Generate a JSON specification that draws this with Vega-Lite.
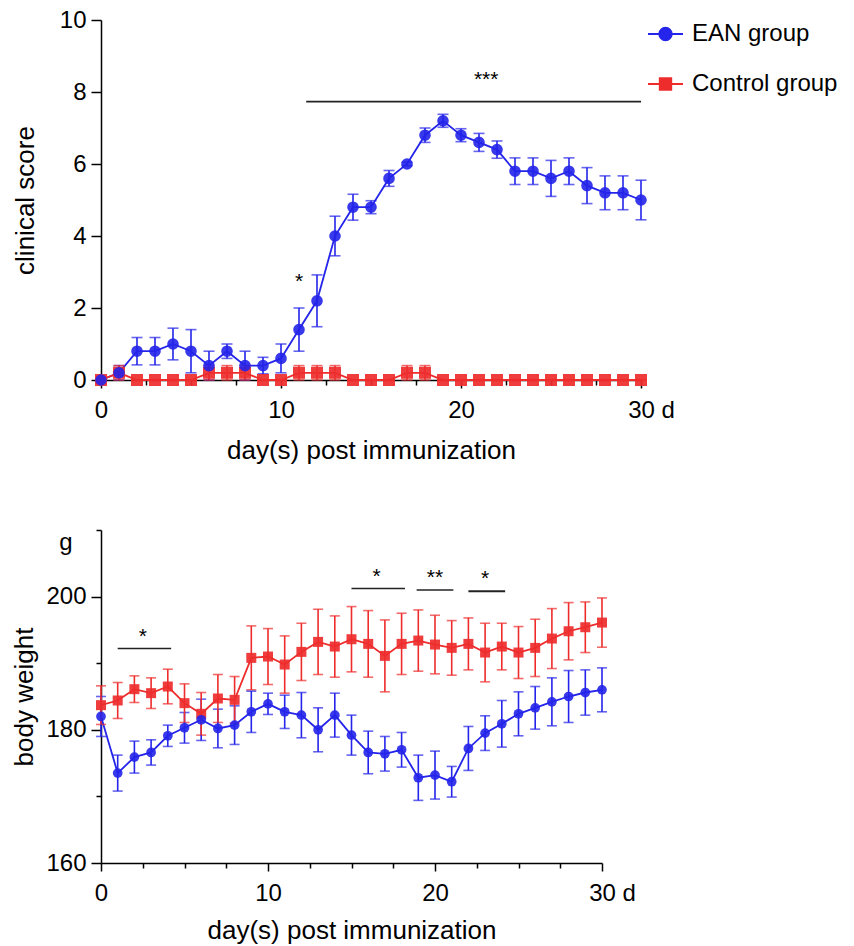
{
  "$schema": "https://vega.github.io/schema/vega-lite/v6.json",
  "padding": {"left": 11, "top": 8, "right": 5, "bottom": 2},
  "spacing": 66,
  "background": "white",
  "config": {
    "view": {"stroke": null},
    "font": "Liberation Sans",
    "axis": {
      "grid": false,
      "domainColor": "black",
      "domainWidth": 1.5,
      "tickColor": "black",
      "tickWidth": 1.5,
      "labelFont": "Liberation Sans",
      "labelFontSize": 24,
      "labelColor": "black",
      "titleFont": "Liberation Sans",
      "titleFontSize": 26,
      "titleFontWeight": "normal",
      "titleColor": "black",
      "labelOverlap": false,
      "labelFlush": false
    }
  },
  "datasets": {
    "score": [
      {"day": 0, "group": "EAN group", "mean": 0, "sem": 0},
      {"day": 1, "group": "EAN group", "mean": 0.2, "sem": 0.2},
      {"day": 2, "group": "EAN group", "mean": 0.8, "sem": 0.38},
      {"day": 3, "group": "EAN group", "mean": 0.8, "sem": 0.38},
      {"day": 4, "group": "EAN group", "mean": 1.0, "sem": 0.44},
      {"day": 5, "group": "EAN group", "mean": 0.8, "sem": 0.6},
      {"day": 6, "group": "EAN group", "mean": 0.4, "sem": 0.4},
      {"day": 7, "group": "EAN group", "mean": 0.8, "sem": 0.2},
      {"day": 8, "group": "EAN group", "mean": 0.4, "sem": 0.4},
      {"day": 9, "group": "EAN group", "mean": 0.4, "sem": 0.23},
      {"day": 10, "group": "EAN group", "mean": 0.6, "sem": 0.4},
      {"day": 11, "group": "EAN group", "mean": 1.4, "sem": 0.6},
      {"day": 12, "group": "EAN group", "mean": 2.2, "sem": 0.72},
      {"day": 13, "group": "EAN group", "mean": 4.0, "sem": 0.55},
      {"day": 14, "group": "EAN group", "mean": 4.8, "sem": 0.36},
      {"day": 15, "group": "EAN group", "mean": 4.8, "sem": 0.18},
      {"day": 16, "group": "EAN group", "mean": 5.6, "sem": 0.22},
      {"day": 17, "group": "EAN group", "mean": 6.0, "sem": 0.05},
      {"day": 18, "group": "EAN group", "mean": 6.8, "sem": 0.2},
      {"day": 19, "group": "EAN group", "mean": 7.2, "sem": 0.18},
      {"day": 20, "group": "EAN group", "mean": 6.8, "sem": 0.18},
      {"day": 21, "group": "EAN group", "mean": 6.6, "sem": 0.25},
      {"day": 22, "group": "EAN group", "mean": 6.4, "sem": 0.24},
      {"day": 23, "group": "EAN group", "mean": 5.8, "sem": 0.37},
      {"day": 24, "group": "EAN group", "mean": 5.8, "sem": 0.37},
      {"day": 25, "group": "EAN group", "mean": 5.6, "sem": 0.5},
      {"day": 26, "group": "EAN group", "mean": 5.8, "sem": 0.37},
      {"day": 27, "group": "EAN group", "mean": 5.4, "sem": 0.5},
      {"day": 28, "group": "EAN group", "mean": 5.2, "sem": 0.47},
      {"day": 29, "group": "EAN group", "mean": 5.2, "sem": 0.47},
      {"day": 30, "group": "EAN group", "mean": 5.0, "sem": 0.55},
      {"day": 0, "group": "Control group", "mean": 0, "sem": 0},
      {"day": 1, "group": "Control group", "mean": 0.2, "sem": 0.2},
      {"day": 2, "group": "Control group", "mean": 0, "sem": 0},
      {"day": 3, "group": "Control group", "mean": 0, "sem": 0},
      {"day": 4, "group": "Control group", "mean": 0, "sem": 0},
      {"day": 5, "group": "Control group", "mean": 0, "sem": 0},
      {"day": 6, "group": "Control group", "mean": 0.2, "sem": 0.2},
      {"day": 7, "group": "Control group", "mean": 0.2, "sem": 0.2},
      {"day": 8, "group": "Control group", "mean": 0.2, "sem": 0.2},
      {"day": 9, "group": "Control group", "mean": 0, "sem": 0},
      {"day": 10, "group": "Control group", "mean": 0, "sem": 0},
      {"day": 11, "group": "Control group", "mean": 0.2, "sem": 0.2},
      {"day": 12, "group": "Control group", "mean": 0.2, "sem": 0.2},
      {"day": 13, "group": "Control group", "mean": 0.2, "sem": 0.2},
      {"day": 14, "group": "Control group", "mean": 0, "sem": 0},
      {"day": 15, "group": "Control group", "mean": 0, "sem": 0},
      {"day": 16, "group": "Control group", "mean": 0, "sem": 0},
      {"day": 17, "group": "Control group", "mean": 0.2, "sem": 0.2},
      {"day": 18, "group": "Control group", "mean": 0.2, "sem": 0.2},
      {"day": 19, "group": "Control group", "mean": 0, "sem": 0},
      {"day": 20, "group": "Control group", "mean": 0, "sem": 0},
      {"day": 21, "group": "Control group", "mean": 0, "sem": 0},
      {"day": 22, "group": "Control group", "mean": 0, "sem": 0},
      {"day": 23, "group": "Control group", "mean": 0, "sem": 0},
      {"day": 24, "group": "Control group", "mean": 0, "sem": 0},
      {"day": 25, "group": "Control group", "mean": 0, "sem": 0},
      {"day": 26, "group": "Control group", "mean": 0, "sem": 0},
      {"day": 27, "group": "Control group", "mean": 0, "sem": 0},
      {"day": 28, "group": "Control group", "mean": 0, "sem": 0},
      {"day": 29, "group": "Control group", "mean": 0, "sem": 0},
      {"day": 30, "group": "Control group", "mean": 0, "sem": 0}
    ],
    "weight": [
      {"day": 0, "group": "EAN group", "mean": 182.0, "sem": 3.0},
      {"day": 1, "group": "EAN group", "mean": 173.5, "sem": 2.7},
      {"day": 2, "group": "EAN group", "mean": 175.9, "sem": 2.4},
      {"day": 3, "group": "EAN group", "mean": 176.6, "sem": 1.9},
      {"day": 4, "group": "EAN group", "mean": 179.1, "sem": 1.6},
      {"day": 5, "group": "EAN group", "mean": 180.3, "sem": 2.3},
      {"day": 6, "group": "EAN group", "mean": 181.5, "sem": 3.1},
      {"day": 7, "group": "EAN group", "mean": 180.2, "sem": 2.9},
      {"day": 8, "group": "EAN group", "mean": 180.7, "sem": 2.9},
      {"day": 9, "group": "EAN group", "mean": 182.7, "sem": 3.1},
      {"day": 10, "group": "EAN group", "mean": 183.9, "sem": 1.6},
      {"day": 11, "group": "EAN group", "mean": 182.7, "sem": 2.5},
      {"day": 12, "group": "EAN group", "mean": 182.2, "sem": 3.4},
      {"day": 13, "group": "EAN group", "mean": 180.0, "sem": 3.3},
      {"day": 14, "group": "EAN group", "mean": 182.2, "sem": 3.3},
      {"day": 15, "group": "EAN group", "mean": 179.2, "sem": 3.0},
      {"day": 16, "group": "EAN group", "mean": 176.6, "sem": 3.2},
      {"day": 17, "group": "EAN group", "mean": 176.4, "sem": 2.6},
      {"day": 18, "group": "EAN group", "mean": 177.0, "sem": 2.6},
      {"day": 19, "group": "EAN group", "mean": 172.8, "sem": 3.4},
      {"day": 20, "group": "EAN group", "mean": 173.2, "sem": 3.6},
      {"day": 21, "group": "EAN group", "mean": 172.2, "sem": 2.3},
      {"day": 22, "group": "EAN group", "mean": 177.2, "sem": 3.3},
      {"day": 23, "group": "EAN group", "mean": 179.5, "sem": 2.6},
      {"day": 24, "group": "EAN group", "mean": 180.9, "sem": 3.5},
      {"day": 25, "group": "EAN group", "mean": 182.4, "sem": 3.3},
      {"day": 26, "group": "EAN group", "mean": 183.3, "sem": 3.2},
      {"day": 27, "group": "EAN group", "mean": 184.2, "sem": 3.6},
      {"day": 28, "group": "EAN group", "mean": 185.0, "sem": 3.9},
      {"day": 29, "group": "EAN group", "mean": 185.6, "sem": 3.4},
      {"day": 30, "group": "EAN group", "mean": 186.0, "sem": 3.3},
      {"day": 0, "group": "Control group", "mean": 183.7, "sem": 2.9},
      {"day": 1, "group": "Control group", "mean": 184.4, "sem": 2.7},
      {"day": 2, "group": "Control group", "mean": 186.1, "sem": 2.0},
      {"day": 3, "group": "Control group", "mean": 185.5, "sem": 2.3},
      {"day": 4, "group": "Control group", "mean": 186.5, "sem": 2.6},
      {"day": 5, "group": "Control group", "mean": 184.0, "sem": 2.9},
      {"day": 6, "group": "Control group", "mean": 182.4, "sem": 3.2},
      {"day": 7, "group": "Control group", "mean": 184.7, "sem": 3.6},
      {"day": 8, "group": "Control group", "mean": 184.5, "sem": 3.5},
      {"day": 9, "group": "Control group", "mean": 190.8, "sem": 4.8},
      {"day": 10, "group": "Control group", "mean": 191.0, "sem": 4.2},
      {"day": 11, "group": "Control group", "mean": 189.8, "sem": 4.3},
      {"day": 12, "group": "Control group", "mean": 191.7, "sem": 4.3},
      {"day": 13, "group": "Control group", "mean": 193.2, "sem": 4.9},
      {"day": 14, "group": "Control group", "mean": 192.5, "sem": 4.6},
      {"day": 15, "group": "Control group", "mean": 193.6, "sem": 4.9},
      {"day": 16, "group": "Control group", "mean": 192.9, "sem": 5.0},
      {"day": 17, "group": "Control group", "mean": 191.1, "sem": 5.4},
      {"day": 18, "group": "Control group", "mean": 192.9, "sem": 4.6},
      {"day": 19, "group": "Control group", "mean": 193.4, "sem": 4.6},
      {"day": 20, "group": "Control group", "mean": 192.8, "sem": 4.4},
      {"day": 21, "group": "Control group", "mean": 192.3, "sem": 4.1},
      {"day": 22, "group": "Control group", "mean": 192.9, "sem": 3.9},
      {"day": 23, "group": "Control group", "mean": 191.6, "sem": 4.4},
      {"day": 24, "group": "Control group", "mean": 192.5, "sem": 3.5},
      {"day": 25, "group": "Control group", "mean": 191.6, "sem": 3.9},
      {"day": 26, "group": "Control group", "mean": 192.3, "sem": 4.3},
      {"day": 27, "group": "Control group", "mean": 193.7, "sem": 4.5},
      {"day": 28, "group": "Control group", "mean": 194.8, "sem": 4.3},
      {"day": 29, "group": "Control group", "mean": 195.4, "sem": 3.8},
      {"day": 30, "group": "Control group", "mean": 196.1, "sem": 3.7}
    ],
    "sigTop": [{"start": 11.4, "end": 30, "level": 7.73}],
    "starTop": [{"day": 21.4, "level": 8.16, "label": "***"}, {"day": 11, "level": 2.56, "label": "*"}],
    "sigBottom": [
      {"start": 1, "end": 4.2, "level": 192.2, "w": 1.5},
      {"start": 15, "end": 18.2, "level": 201.2, "w": 1.5},
      {"start": 18.9, "end": 21.1, "level": 201.0, "w": 1.5},
      {"start": 22, "end": 24.2, "level": 200.8, "w": 2.2}
    ],
    "starBottom": [
      {"day": 2.5, "level": 193.1, "label": "*"},
      {"day": 16.5, "level": 202.0, "label": "*"},
      {"day": 20, "level": 201.9, "label": "**"},
      {"day": 23, "level": 201.8, "label": "*"}
    ],
    "legendKeys": [
      {"group": "EAN group", "day": 0, "mean": 0},
      {"group": "Control group", "day": 0, "mean": 0}
    ]
  },
  "vconcat": [
    {
      "width": 540,
      "height": 360,
      "layer": [
        {
          "data": {"name": "score"},
          "mark": {"type": "line", "strokeWidth": 1.8},
          "encoding": {
            "x": {"field": "day", "type": "quantitative", "title": "day(s) post immunization", "scale": {"domain": [0, 30], "nice": false},
              "axis": {"values": [0, 2.5, 5, 7.5, 10, 12.5, 15, 17.5, 20, 22.5, 25, 27.5, 30],
                "labelExpr": "datum.value % 10 === 0 ? (datum.value === 30 ? '30  d' : datum.label) : ''",
                "labelAlign": {"condition": {"test": "datum.value === 30", "value": "left"}, "value": "center"},
                "labelOffset": {"condition": {"test": "datum.value === 30", "value": -13.3}, "value": 0},
                "tickSize": {"condition": {"test": "datum.value % 10 === 0", "value": 8}, "value": 5},
                "labelPadding": 10, "titlePadding": 15}},
            "y": {"field": "mean", "type": "quantitative", "title": "clinical score", "scale": {"domain": [0, 10], "nice": false},
              "axis": {"values": [0, 1, 2, 3, 4, 5, 6, 7, 8, 9, 10],
                "labelExpr": "datum.value % 2 === 0 ? datum.label : ''",
                "tickSize": {"condition": {"test": "datum.value % 2 === 0", "value": 10}, "value": 5},
                "labelPadding": 5, "titlePadding": 21}},
            "color": {"field": "group", "type": "nominal", "scale": {"domain": ["Control group", "EAN group"], "range": ["#ee2c2c", "#2424ea"]}, "legend": null}
          }
        },
        {
          "data": {"name": "score"},
          "mark": {"type": "errorbar", "ticks": {"size": 11}, "thickness": 1.6},
          "encoding": {
            "x": {"field": "day", "type": "quantitative", "title": "day(s) post immunization"},
            "y": {"field": "mean", "type": "quantitative", "title": "clinical score"},
            "yError": {"field": "sem"},
            "color": {"field": "group", "type": "nominal", "legend": null}
          }
        },
        {
          "data": {"name": "score"},
          "transform": [{"filter": "datum.group === 'Control group'"}],
          "mark": {"type": "square", "size": 144, "opacity": 0.92},
          "encoding": {
            "x": {"field": "day", "type": "quantitative", "title": "day(s) post immunization"},
            "y": {"field": "mean", "type": "quantitative", "title": "clinical score"},
            "color": {"field": "group", "type": "nominal", "legend": null}
          }
        },
        {
          "data": {"name": "score"},
          "transform": [{"filter": "datum.group === 'EAN group'"}],
          "mark": {"type": "circle", "size": 135, "opacity": 0.9},
          "encoding": {
            "x": {"field": "day", "type": "quantitative", "title": "day(s) post immunization"},
            "y": {"field": "mean", "type": "quantitative", "title": "clinical score"},
            "color": {"field": "group", "type": "nominal", "legend": null}
          }
        },
        {
          "data": {"name": "sigTop"},
          "mark": {"type": "rule", "color": "#222222", "strokeWidth": 1.8},
          "encoding": {
            "x": {"field": "start", "type": "quantitative", "title": "day(s) post immunization"},
            "x2": {"field": "end"},
            "y": {"field": "level", "type": "quantitative", "title": "clinical score"}
          }
        },
        {
          "data": {"name": "starTop"},
          "mark": {"type": "text", "fontSize": 21, "font": "Liberation Sans", "color": "black", "baseline": "alphabetic"},
          "encoding": {
            "x": {"field": "day", "type": "quantitative", "title": "day(s) post immunization"},
            "y": {"field": "level", "type": "quantitative", "title": "clinical score"},
            "text": {"field": "label"}
          }
        },
        {
          "data": {"name": "legendKeys"},
          "mark": {"type": "point", "filled": true, "opacity": 0},
          "encoding": {
            "x": {"field": "day", "type": "quantitative", "title": "day(s) post immunization"},
            "y": {"field": "mean", "type": "quantitative", "title": "clinical score"},
            "fill": {"field": "group", "type": "nominal", "title": null, "scale": {"domain": ["EAN group", "Control group"], "range": ["#2424ea", "#ee2c2c"]},
              "legend": {"orient": "none", "legendX": 546, "legendY": -4.5, "labelFontSize": 24, "labelFont": "Liberation Sans", "labelColor": "black", "symbolSize": 1225, "symbolStrokeWidth": 1.8, "symbolOpacity": 1, "rowPadding": 19, "labelOffset": 8}},
            "stroke": {"field": "group", "type": "nominal", "title": null, "scale": {"domain": ["EAN group", "Control group"], "range": ["#2424ea", "#ee2c2c"]},
              "legend": {"orient": "none", "legendX": 546, "legendY": -4.5, "labelFontSize": 24, "labelFont": "Liberation Sans", "labelColor": "black", "symbolSize": 1225, "symbolStrokeWidth": 1.8, "symbolOpacity": 1, "rowPadding": 19, "labelOffset": 8}},
            "shape": {"field": "group", "type": "nominal", "title": null, "scale": {"domain": ["EAN group", "Control group"], "range": ["M-1,0L1,0M0.36,0L0.3326,0.1378L0.2546,0.2546L0.1378,0.3326L0,0.36L-0.1378,0.3326L-0.2546,0.2546L-0.3326,0.1378L-0.36,0L-0.3326,-0.1378L-0.2546,-0.2546L-0.1378,-0.3326L0,-0.36L0.1378,-0.3326L0.2546,-0.2546L0.3326,-0.1378Z", "M-1,0L1,0M-0.33,-0.33L0.33,-0.33L0.33,0.33L-0.33,0.33Z"]},
              "legend": {"orient": "none", "legendX": 546, "legendY": -4.5, "labelFontSize": 24, "labelFont": "Liberation Sans", "labelColor": "black", "symbolSize": 1225, "symbolStrokeWidth": 1.8, "symbolOpacity": 1, "rowPadding": 19, "labelOffset": 8}}
          }
        }
      ]
    },
    {
      "width": 501,
      "height": 333,
      "layer": [
        {
          "data": {"name": "weight"},
          "mark": {"type": "line", "strokeWidth": 1.8},
          "encoding": {
            "x": {"field": "day", "type": "quantitative", "title": "day(s) post immunization", "scale": {"domain": [0, 30], "nice": false},
              "axis": {"values": [0, 2.5, 5, 7.5, 10, 12.5, 15, 17.5, 20, 22.5, 25, 27.5, 30],
                "labelExpr": "datum.value % 10 === 0 ? (datum.value === 30 ? '30   d' : datum.label) : ''",
                "labelAlign": {"condition": {"test": "datum.value === 30", "value": "left"}, "value": "center"},
                "labelOffset": {"condition": {"test": "datum.value === 30", "value": -13.3}, "value": 0},
                "tickSize": {"condition": {"test": "datum.value % 10 === 0", "value": 8}, "value": 5},
                "labelPadding": 10, "titlePadding": 12}},
            "y": {"field": "mean", "type": "quantitative", "title": "body weight", "scale": {"domain": [160, 210], "nice": false, "zero": false},
              "axis": {"values": [160, 170, 180, 190, 200, 210],
                "labelExpr": "datum.value === 210 ? 'g' : (datum.value % 20 === 0 ? datum.label : '')",
                "tickSize": {"condition": {"test": "datum.value % 20 === 0", "value": 10}, "value": 5},
                "labelPadding": {"condition": {"test": "datum.value === 210", "value": 24}, "value": 5},
                "labelOffset": {"condition": {"test": "datum.value === 210", "value": 12}, "value": 0},
                "titlePadding": 8}},
            "color": {"field": "group", "type": "nominal", "legend": null}
          }
        },
        {
          "data": {"name": "weight"},
          "mark": {"type": "errorbar", "ticks": {"size": 10}, "thickness": 1.6},
          "encoding": {
            "x": {"field": "day", "type": "quantitative", "title": "day(s) post immunization"},
            "y": {"field": "mean", "type": "quantitative", "title": "body weight"},
            "yError": {"field": "sem"},
            "color": {"field": "group", "type": "nominal", "legend": null}
          }
        },
        {
          "data": {"name": "weight"},
          "transform": [{"filter": "datum.group === 'Control group'"}],
          "mark": {"type": "square", "size": 100, "opacity": 0.92},
          "encoding": {
            "x": {"field": "day", "type": "quantitative", "title": "day(s) post immunization"},
            "y": {"field": "mean", "type": "quantitative", "title": "body weight"},
            "color": {"field": "group", "type": "nominal", "legend": null}
          }
        },
        {
          "data": {"name": "weight"},
          "transform": [{"filter": "datum.group === 'EAN group'"}],
          "mark": {"type": "circle", "size": 95, "opacity": 0.9},
          "encoding": {
            "x": {"field": "day", "type": "quantitative", "title": "day(s) post immunization"},
            "y": {"field": "mean", "type": "quantitative", "title": "body weight"},
            "color": {"field": "group", "type": "nominal", "legend": null}
          }
        },
        {
          "data": {"name": "sigBottom"},
          "mark": {"type": "rule", "color": "#222222"},
          "encoding": {
            "x": {"field": "start", "type": "quantitative", "title": "day(s) post immunization"},
            "x2": {"field": "end"},
            "y": {"field": "level", "type": "quantitative", "title": "body weight"},
            "strokeWidth": {"field": "w", "type": "quantitative", "scale": null}
          }
        },
        {
          "data": {"name": "starBottom"},
          "mark": {"type": "text", "fontSize": 21, "font": "Liberation Sans", "color": "black", "baseline": "alphabetic"},
          "encoding": {
            "x": {"field": "day", "type": "quantitative", "title": "day(s) post immunization"},
            "y": {"field": "level", "type": "quantitative", "title": "body weight"},
            "text": {"field": "label"}
          }
        }
      ]
    }
  ]
}
